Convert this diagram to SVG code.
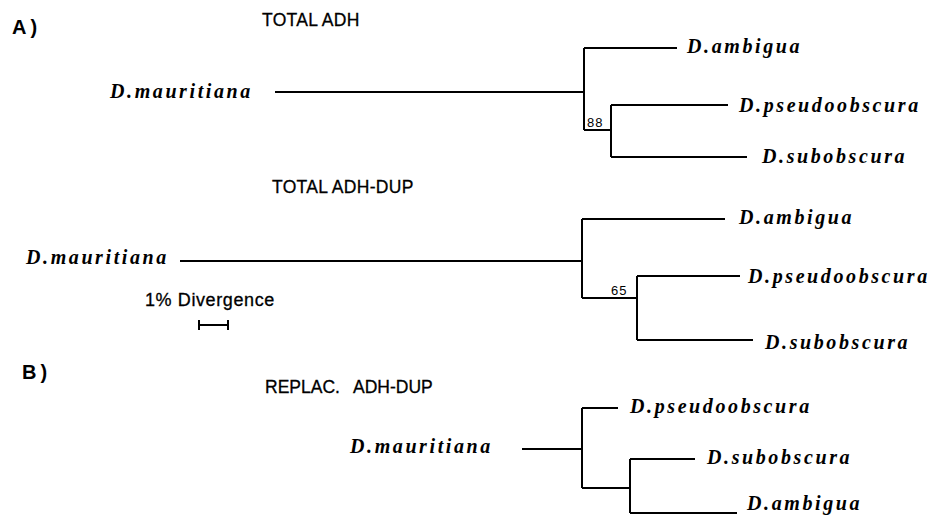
<svg xmlns="http://www.w3.org/2000/svg" width="947" height="523" viewBox="0 0 947 523">
  <style>
    .bg { fill: #ffffff; }
    .panel { font-family: "Liberation Sans", Arial, sans-serif; font-weight: bold; font-size: 20px; letter-spacing: 4px; fill: #000; }
    .title { font-family: "Liberation Sans", Arial, sans-serif; font-size: 17.5px; fill: #000; stroke: #000; stroke-width: 0.3; }
    .scale-label { font-family: "Liberation Sans", Arial, sans-serif; font-size: 18px; letter-spacing: 0.6px; fill: #000; stroke: #000; stroke-width: 0.3; }
    .taxon { font-family: "Liberation Serif", "Times New Roman", serif; font-style: italic; font-weight: bold; font-size: 20px; letter-spacing: 2.6px; fill: #000; }
    .boot { font-family: "Liberation Sans", Arial, sans-serif; font-size: 13px; letter-spacing: 1px; fill: #000; }
    .branch { fill: none; stroke: #000; stroke-width: 2; stroke-linecap: butt; }
  </style>
  <rect class="bg" x="0" y="0" width="947" height="523"/>

  <!-- panel letters and tree titles -->
  <text class="panel" x="12" y="34">A)</text>
  <text class="panel" x="22" y="379">B)</text>
  <text class="title" x="262" y="26" letter-spacing="0.3">TOTAL ADH</text>
  <text class="title" x="272" y="193" letter-spacing="0.3">TOTAL ADH-DUP</text>
  <text class="title" y="393"><tspan x="265">REPLAC.</tspan><tspan x="353">ADH-DUP</tspan></text>

  <!-- tree 1: total ADH -->
  <g id="t1-mauritiana"><text class="taxon" x="110" y="98">D.mauritiana</text></g>
  <g id="t1-ambigua"><text class="taxon" x="687" y="53">D.ambigua</text></g>
  <g id="t1-pseudoobscura"><text class="taxon" x="739" y="112">D.pseudoobscura</text></g>
  <g id="t1-subobscura"><text class="taxon" x="762" y="163">D.subobscura</text></g>
  <g id="t1-boot"><text class="boot" x="587" y="127">88</text></g>

  <!-- tree 2: total ADH-DUP -->
  <g id="t2-mauritiana"><text class="taxon" x="26" y="264">D.mauritiana</text></g>
  <g id="t2-ambigua"><text class="taxon" x="739" y="224">D.ambigua</text></g>
  <g id="t2-pseudoobscura"><text class="taxon" x="748" y="283">D.pseudoobscura</text></g>
  <g id="t2-subobscura"><text class="taxon" x="765" y="349">D.subobscura</text></g>
  <g id="t2-boot"><text class="boot" x="611" y="295">65</text></g>

  <!-- scale -->
  <g id="scale">
    <text class="scale-label" x="145" y="306">1% Divergence</text>
    <path class="branch" d="M199 325 H228 M199 320 V330 M228 320 V330"/>
  </g>

  <!-- tree 3: replacement ADH-DUP -->
  <g id="t3-mauritiana"><text class="taxon" x="350" y="453">D.mauritiana</text></g>
  <g id="t3-pseudoobscura"><text class="taxon" x="630" y="413">D.pseudoobscura</text></g>
  <g id="t3-subobscura"><text class="taxon" x="707" y="464">D.subobscura</text></g>
  <g id="t3-ambigua"><text class="taxon" x="747" y="510">D.ambigua</text></g>

  <!-- branches -->
  <g id="connectors">
    <path class="branch" d="M275 92 H584 M584 48 V130 M584 48 H677 M584 130 H611 M611 105 V157 M611 105 H728 M611 157 H747"/>
    <path class="branch" d="M180 261 H582 M582 219 V298 M582 219 H725 M582 298 H637 M637 276 V340 M637 276 H740 M637 340 H753"/>
    <path class="branch" d="M522 449 H582 M582 408 V488 M582 408 H618 M582 488 H630 M630 459 V513 M630 459 H695 M630 513 H737"/>
  </g>
</svg>
